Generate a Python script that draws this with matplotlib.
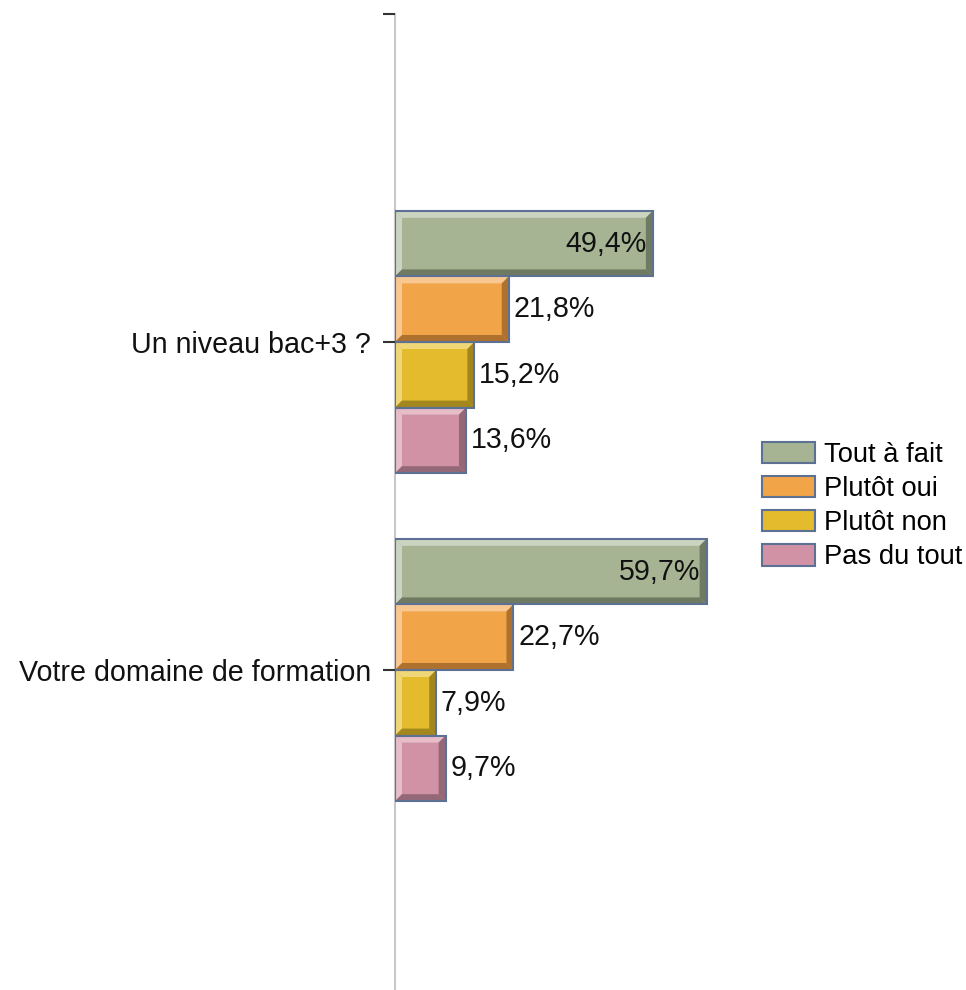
import numpy as np
import matplotlib
matplotlib.use("Agg")
from matplotlib import pyplot as plt
from matplotlib.patches import Polygon, Patch

plt.rcParams['font.family'] = ['Liberation Sans', 'DejaVu Sans']

categories = ["Un niveau bac+3 ?", "Votre domaine de formation"]
series = ["Tout à fait", "Plutôt oui", "Plutôt non", "Pas du tout"]
values = {
    "Tout à fait": [49.4, 59.7],
    "Plutôt oui": [21.8, 22.7],
    "Plutôt non": [15.2, 7.9],
    "Pas du tout": [13.6, 9.7],
}
labels = {
    "Tout à fait": ["49,4%", "59,7%"],
    "Plutôt oui": ["21,8%", "22,7%"],
    "Plutôt non": ["15,2%", "7,9%"],
    "Pas du tout": ["13,6%", "9,7%"],
}

# face, light bevel, dark bevel
colors = {
    "Tout à fait": ("#a6b493", "#cbd4c0", "#6f7a62"),
    "Plutôt oui": ("#f1a448", "#f8c792", "#ae722e"),
    "Plutôt non": ("#e3bb2c", "#efd677", "#a4861f"),
    "Pas du tout": ("#d092a4", "#e6bdc9", "#946876"),
}
edge = "#5d7194"

W, H = 966, 990
fig = plt.figure(figsize=(W / 100, H / 100), dpi=100)
ax_left, ax_top, ax_h = 395, 14, 984
ax_w = W - ax_left
ax = fig.add_axes([ax_left / W, 1 - (ax_top + ax_h) / H, ax_w / W, ax_h / H])

px_per_pct = 5.22
ax.set_xlim(0, ax_w / px_per_pct)
ax.set_ylim(3, 0)

bar_h = 0.2
bev_px = 7
bx = bev_px / px_per_pct
by = bev_px / (ax_h / 3)
offsets = [-0.3, -0.1, 0.1, 0.3]
fs = 20.6

for s, off in zip(series, offsets):
    face, light, dark = colors[s]
    ypos = np.arange(1, len(categories) + 1) + off
    bars = ax.barh(ypos, values[s], height=bar_h, color=face, edgecolor="none", zorder=2)
    for rect, v, lab in zip(bars, values[s], labels[s]):
        x0, y0 = rect.get_x(), rect.get_y()
        x1, y1 = x0 + rect.get_width(), y0 + rect.get_height()
        # y axis inverted: y0 is top visually
        top = Polygon([(x0, y0), (x1, y0), (x1 - bx, y0 + by), (x0 + bx, y0 + by)],
                      closed=True, color=light, lw=0, zorder=3)
        left = Polygon([(x0, y0), (x0 + bx, y0 + by), (x0 + bx, y1 - by), (x0, y1)],
                       closed=True, color=light, lw=0, zorder=3)
        bottom = Polygon([(x0, y1), (x1, y1), (x1 - bx, y1 - by), (x0 + bx, y1 - by)],
                         closed=True, color=dark, lw=0, zorder=3)
        right = Polygon([(x1, y0), (x1, y1), (x1 - bx, y1 - by), (x1 - bx, y0 + by)],
                        closed=True, color=dark, lw=0, zorder=3)
        for p in (top, left, bottom, right):
            ax.add_patch(p)
        ax.add_patch(plt.Rectangle((x0, y0), x1 - x0, y1 - y0, fill=False,
                                   edgecolor=edge, lw=1.5, zorder=4))
        yc = y0 + bar_h / 2
        if v > 40:
            ax.text(x1 - bx + 0.2, yc, lab, ha="right", va="center", fontsize=fs,
                    color="#111111", zorder=5)
        else:
            ax.text(x1 + 0.9, yc, lab, ha="left", va="center", fontsize=fs,
                    color="#111111", zorder=5)

for sp in ("top", "right", "bottom"):
    ax.spines[sp].set_visible(False)
ax.spines["left"].set_color("#c8c8c8")
ax.spines["left"].set_linewidth(1.5)
ax.spines["left"].set_zorder(1)
ax.set_xticks([])
ax.set_yticks([0, 1, 2])
ax.set_yticklabels([""] + categories, fontsize=fs, color="#111111")
ax.tick_params(axis="y", length=8.7, width=1.5, color="#333333", pad=8.5)

handles = [Patch(facecolor=colors[s][0], edgecolor=edge, lw=1.5) for s in series]
fig.legend(handles, series, loc="upper left", bbox_to_anchor=(762 / W, 1 - 442 / H),
           frameon=False, fontsize=19.7, handlelength=1.93, handleheight=0.82,
           handletextpad=0.35, labelspacing=0.29, borderpad=0, borderaxespad=0)

fig.savefig("out.png", dpi=100)
